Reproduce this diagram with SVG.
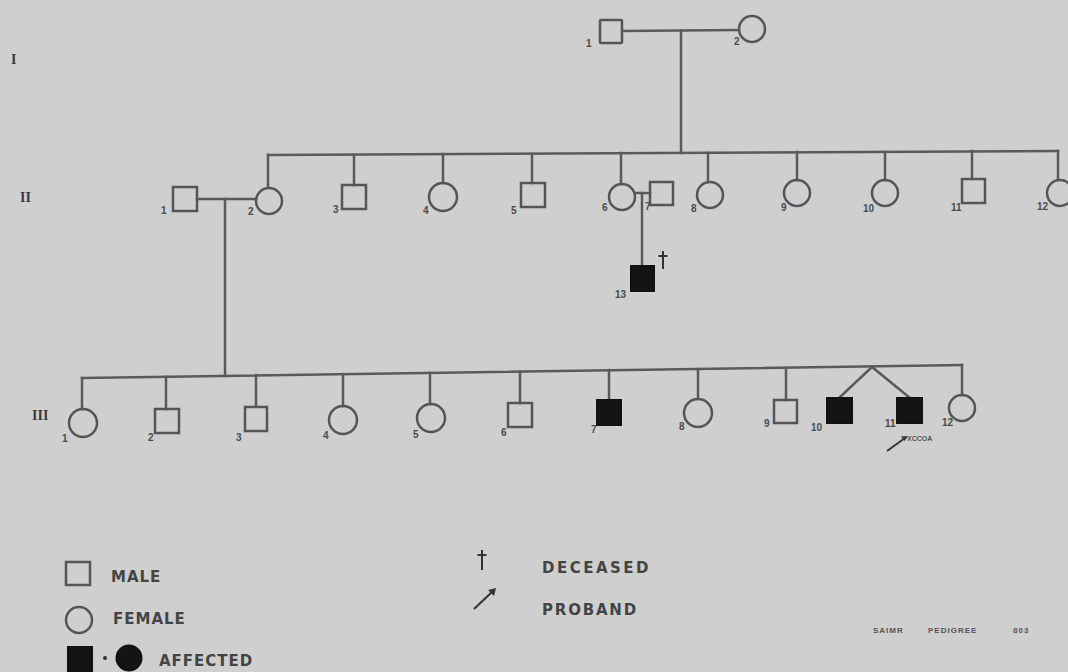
<svg xmlns="http://www.w3.org/2000/svg" width="1068" height="672" viewBox="0 0 1068 672">
  <style>
    .ln { stroke: #5a5a5a; stroke-width: 2.5; fill: none; stroke-linecap: square; }
    .sym { stroke: #555; stroke-width: 2.5; fill: none; }
    .aff { stroke: #111; stroke-width: 2; fill: #141414; }
    .num { font-family: "Liberation Sans", Arial, sans-serif; font-size: 10px; fill: #4a4a4a; font-weight: bold; }
    .gen { font-family: "Liberation Serif", "Times New Roman", serif; font-size: 14px; fill: #3a3a3a; font-weight: bold; }
    .leg { font-family: "DejaVu Sans", "Liberation Sans", sans-serif; font-size: 15px; fill: #444; font-weight: bold; letter-spacing: 1px; }
    .wide { letter-spacing: 2.5px; }
    .tag { font-family: "Liberation Sans", Arial, sans-serif; font-size: 8px; fill: #555; font-weight: bold; letter-spacing: 1px; }
    .small { font-size: 7px; letter-spacing: 0; }
  </style>
  <rect width="1068" height="672" fill="#cfcfcf"/>

  <!-- generation markers -->
  <g id="generations">
    <text class="gen" x="11" y="64">I</text>
    <text class="gen" x="20" y="202">II</text>
    <text class="gen" x="32" y="420">III</text>
  </g>

  <!-- connectors -->
  <g id="connectors">
    <!-- I-1 x I-2 -->
    <line class="ln" x1="623" y1="31" x2="739" y2="30"/>
    <line class="ln" x1="681" y1="31" x2="681" y2="153"/>
    <!-- generation II sibship -->
    <line class="ln" x1="268" y1="155" x2="1058" y2="151"/>
    <line class="ln" x1="268" y1="155" x2="268" y2="187"/>
    <line class="ln" x1="354" y1="155" x2="354" y2="185"/>
    <line class="ln" x1="443" y1="154" x2="443" y2="183"/>
    <line class="ln" x1="532" y1="154" x2="532" y2="183"/>
    <line class="ln" x1="621" y1="153" x2="621" y2="184"/>
    <line class="ln" x1="708" y1="153" x2="708" y2="182"/>
    <line class="ln" x1="797" y1="152" x2="797" y2="180"/>
    <line class="ln" x1="885" y1="152" x2="885" y2="180"/>
    <line class="ln" x1="972" y1="151" x2="972" y2="179"/>
    <line class="ln" x1="1058" y1="151" x2="1058" y2="180"/>
    <!-- II-1 x II-2 -->
    <line class="ln" x1="197" y1="199" x2="256" y2="199"/>
    <line class="ln" x1="225" y1="199" x2="225" y2="376"/>
    <!-- II-6 x II-7 -->
    <line class="ln" x1="635" y1="193" x2="650" y2="193"/>
    <line class="ln" x1="642" y1="193" x2="642" y2="266"/>
    <!-- generation III sibship -->
    <line class="ln" x1="82" y1="378" x2="962" y2="365"/>
    <line class="ln" x1="82" y1="378" x2="82" y2="409"/>
    <line class="ln" x1="166" y1="377" x2="166" y2="409"/>
    <line class="ln" x1="256" y1="375" x2="256" y2="407"/>
    <line class="ln" x1="343" y1="374" x2="343" y2="406"/>
    <line class="ln" x1="430" y1="373" x2="430" y2="404"/>
    <line class="ln" x1="520" y1="372" x2="520" y2="403"/>
    <line class="ln" x1="609" y1="370" x2="609" y2="400"/>
    <line class="ln" x1="698" y1="369" x2="698" y2="399"/>
    <line class="ln" x1="786" y1="368" x2="786" y2="400"/>
    <line class="ln" x1="962" y1="365" x2="962" y2="395"/>
    <!-- twins III-10 / III-11 -->
    <polyline class="ln" points="839,398 872,367 910,398"/>
  </g>

  <!-- generation I -->
  <g id="I-1"><rect class="sym" x="600" y="20" width="22" height="23" rx="1"/><text class="num" x="586" y="47">1</text></g>
  <g id="I-2"><circle class="sym" cx="752" cy="29" r="13"/><text class="num" x="734" y="45">2</text></g>

  <!-- generation II -->
  <g id="II-1"><rect class="sym" x="173" y="187" width="24" height="24"/><text class="num" x="161" y="214">1</text></g>
  <g id="II-2"><circle class="sym" cx="269" cy="201" r="13"/><text class="num" x="248" y="215">2</text></g>
  <g id="II-3"><rect class="sym" x="342" y="185" width="24" height="24"/><text class="num" x="333" y="213">3</text></g>
  <g id="II-4"><circle class="sym" cx="443" cy="197" r="14"/><text class="num" x="423" y="214">4</text></g>
  <g id="II-5"><rect class="sym" x="521" y="183" width="24" height="24"/><text class="num" x="511" y="214">5</text></g>
  <g id="II-6"><circle class="sym" cx="622" cy="197" r="13"/><text class="num" x="602" y="211">6</text></g>
  <g id="II-7"><rect class="sym" x="650" y="182" width="23" height="23"/><text class="num" x="645" y="210">7</text></g>
  <g id="II-8"><circle class="sym" cx="710" cy="195" r="13"/><text class="num" x="691" y="212">8</text></g>
  <g id="II-9"><circle class="sym" cx="797" cy="193" r="13"/><text class="num" x="781" y="211">9</text></g>
  <g id="II-10"><circle class="sym" cx="885" cy="193" r="13"/><text class="num" x="863" y="212">10</text></g>
  <g id="II-11"><rect class="sym" x="962" y="179" width="23" height="24"/><text class="num" x="951" y="211">11</text></g>
  <g id="II-12"><circle class="sym" cx="1060" cy="193" r="13"/><text class="num" x="1037" y="210">12</text></g>
  <g id="II-13">
    <rect class="aff" x="631" y="266" width="23" height="25"/>
    <text class="num" x="615" y="298">13</text>
    <path d="M663 251 V269 M658.5 256 H667.5" stroke="#333" stroke-width="2" fill="none"/>
  </g>

  <!-- generation III -->
  <g id="III-1"><circle class="sym" cx="83" cy="423" r="14"/><text class="num" x="62" y="442">1</text></g>
  <g id="III-2"><rect class="sym" x="155" y="409" width="24" height="24"/><text class="num" x="148" y="441">2</text></g>
  <g id="III-3"><rect class="sym" x="245" y="407" width="22" height="24"/><text class="num" x="236" y="441">3</text></g>
  <g id="III-4"><circle class="sym" cx="343" cy="420" r="14"/><text class="num" x="323" y="439">4</text></g>
  <g id="III-5"><circle class="sym" cx="431" cy="418" r="14"/><text class="num" x="413" y="438">5</text></g>
  <g id="III-6"><rect class="sym" x="508" y="403" width="24" height="24"/><text class="num" x="501" y="436">6</text></g>
  <g id="III-7"><rect class="aff" x="597" y="400" width="24" height="25"/><text class="num" x="591" y="433">7</text></g>
  <g id="III-8"><circle class="sym" cx="698" cy="413" r="14"/><text class="num" x="679" y="430">8</text></g>
  <g id="III-9"><rect class="sym" x="774" y="400" width="23" height="23"/><text class="num" x="764" y="427">9</text></g>
  <g id="III-10"><rect class="aff" x="827" y="398" width="25" height="25"/><text class="num" x="811" y="431">10</text></g>
  <g id="III-11">
    <rect class="aff" x="897" y="398" width="25" height="25"/>
    <text class="num" x="885" y="427">11</text>
    <line x1="887" y1="451" x2="905" y2="438" stroke="#333" stroke-width="2"/>
    <path d="M908 436 l-7 0.5 l3.5 4.5 z" fill="#333"/>
    <text class="tag small" x="907" y="441">XCCOA</text>
  </g>
  <g id="III-12"><circle class="sym" cx="962" cy="408" r="13"/><text class="num" x="942" y="426">12</text></g>

  <!-- key -->
  <g id="legend">
    <rect class="sym" x="66" y="562" width="24" height="23"/>
    <text class="leg" x="111" y="582">MALE</text>
    <circle class="sym" cx="79" cy="620" r="13"/>
    <text class="leg" x="113" y="624">FEMALE</text>
    <rect class="aff" x="68" y="647" width="24" height="26"/>
    <circle cx="105" cy="658" r="2" fill="#333"/>
    <circle class="aff" cx="129" cy="658" r="12.5"/>
    <text class="leg" x="159" y="666">AFFECTED</text>
    <path d="M482 550 V570 M477.5 555 H486.5" stroke="#333" stroke-width="2" fill="none"/>
    <text class="leg wide" x="542" y="573">DECEASED</text>
    <line x1="474" y1="609" x2="493" y2="591" stroke="#333" stroke-width="2"/>
    <path d="M496 588 l-8 2 l6 6 z" fill="#333"/>
    <text class="leg wide" x="542" y="615" style="letter-spacing:1.8px">PROBAND</text>
  </g>

  <g id="caption">
    <text class="tag" x="873" y="633">SAIMR</text>
    <text class="tag" x="928" y="633">PEDIGREE</text>
    <text class="tag" x="1013" y="633">803</text>
  </g>
</svg>
